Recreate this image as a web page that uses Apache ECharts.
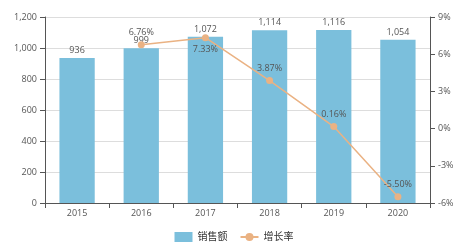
<!DOCTYPE html>
<html><head><meta charset="utf-8">
<script src="https://cdn.jsdelivr.net/npm/echarts@6/dist/echarts.min.js"></script>
<style>html,body{margin:0;padding:0;background:#fff}#c{width:468px;height:247px}</style>
</head><body><div id="c"></div>
<script>
const years = ['2015','2016','2017','2018','2019','2020'];
const sales = [936, 999, 1072, 1114, 1116, 1054];
const growth = [null, 6.76, 7.33, 3.87, 0.16, -5.50];
const growthLabelPos = [null, 'top', 'bottom', 'top', 'top', 'top'];

const chart = echarts.init(document.getElementById('c'));
const fmtNum = v => v.toLocaleString('en-US');
chart.setOption({
  animation: false,
  textStyle: {fontFamily: 'Open Sans, Noto Sans CJK SC, sans-serif'},
  grid: {left: 45, right: 38, top: 17, bottom: 44},
  legend: {
    bottom: 0, left: 'center', itemWidth: 18, itemHeight: 10, itemGap: 12,
    textStyle: {fontSize: 10, color: '#333'},
    data: [{name: '销售额', icon: 'rect'}, {name: '增长率'}]
  },
  xAxis: {
    type: 'category', data: years,
    axisLine: {lineStyle: {color: '#555'}},
    axisTick: {show: true, lineStyle: {color: '#555'}},
    axisLabel: {fontSize: 9, color: '#555', margin: 6}
  },
  yAxis: [{
    type: 'value', min: 0, max: 1200, interval: 200,
    axisLine: {show: true, lineStyle: {color: '#555'}},
    axisTick: {show: true, lineStyle: {color: '#555'}},
    axisLabel: {fontSize: 9, color: '#555', formatter: fmtNum},
    splitLine: {lineStyle: {color: '#ddd'}}
  }, {
    type: 'value', min: -6, max: 9, interval: 3,
    axisLine: {show: true, lineStyle: {color: '#555'}},
    axisTick: {show: true, lineStyle: {color: '#555'}},
    axisLabel: {fontSize: 9, color: '#555', formatter: '{value}%'},
    splitLine: {show: false}
  }],
  series: [{
    name: '销售额', type: 'bar', data: sales, barWidth: '55%',
    itemStyle: {color: '#7bbfdc'},
    label: {show: true, position: 'top', fontSize: 9, color: '#555', distance: 3, formatter: p => fmtNum(p.value)}
  }, {
    name: '增长率', type: 'line', yAxisIndex: 1,
    data: growth.map((v, i) => v === null ? null : {value: v, label: {position: growthLabelPos[i]}}),
    symbol: 'circle', symbolSize: 7,
    lineStyle: {color: '#eab283', width: 1.5},
    itemStyle: {color: '#eab283'},
    label: {show: true, fontSize: 9, color: '#555', distance: 4, formatter: p => p.value.toFixed(2) + '%'}
  }]
});
</script></body></html>
